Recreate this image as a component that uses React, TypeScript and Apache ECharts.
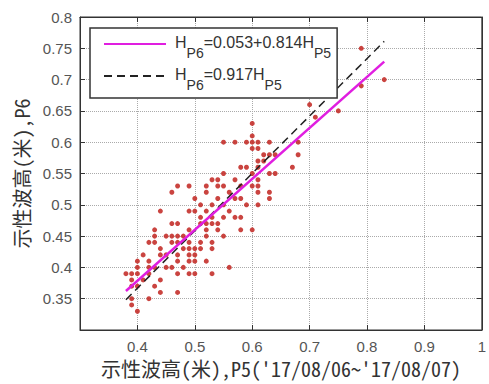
import React, { useEffect, useRef } from "react";
import * as echarts from "echarts";

// Significant wave height levels at P6 (m), and the P5 readings observed at each level
const p6Levels = [
  0.75, 0.7, 0.69, 0.66, 0.65, 0.64, 0.63, 0.61, 0.6, 0.59, 0.58, 0.57, 0.56, 0.55, 0.54,
  0.53, 0.52, 0.51, 0.5, 0.49, 0.48, 0.47, 0.46, 0.45, 0.44, 0.43, 0.42, 0.41, 0.4, 0.39,
  0.38, 0.37, 0.36, 0.35, 0.34, 0.33,
];
const p5AtLevel = [
  [0.79],
  [0.83],
  [0.79],
  [0.7],
  [0.75],
  [0.71],
  [0.6],
  [0.6],
  [0.55, 0.57, 0.59, 0.6, 0.61, 0.63, 0.68],
  [0.6, 0.61],
  [0.62, 0.63, 0.64, 0.68],
  [0.61, 0.62],
  [0.58, 0.59, 0.61, 0.67],
  [0.55, 0.6, 0.63, 0.64],
  [0.53, 0.54, 0.57, 0.61],
  [0.47, 0.49, 0.52, 0.54, 0.55, 0.58, 0.6, 0.61],
  [0.46, 0.52, 0.56, 0.61, 0.63],
  [0.5, 0.54, 0.57, 0.58, 0.63],
  [0.51, 0.53, 0.55, 0.59, 0.61],
  [0.44, 0.49, 0.5, 0.52, 0.56],
  [0.51, 0.53, 0.55, 0.57, 0.58],
  [0.46, 0.47, 0.51, 0.52, 0.53, 0.54],
  [0.43, 0.49, 0.52, 0.54, 0.58, 0.6],
  [0.43, 0.45, 0.46, 0.47, 0.48, 0.52, 0.55],
  [0.42, 0.43, 0.46, 0.47, 0.49, 0.51, 0.53],
  [0.44, 0.48, 0.49, 0.5, 0.51, 0.53],
  [0.41, 0.44, 0.45, 0.47, 0.49, 0.5],
  [0.4, 0.42, 0.47, 0.49, 0.5, 0.52],
  [0.4, 0.42, 0.43, 0.45, 0.46, 0.48, 0.56],
  [0.38, 0.39, 0.4, 0.42, 0.47, 0.49, 0.5, 0.53],
  [0.39, 0.41, 0.44],
  [0.39, 0.4, 0.43],
  [0.44, 0.47],
  [0.39, 0.42],
  [0.39],
  [0.4],
];

// Regression coefficients and the P5 span the fitted lines cover
const fitIntercept = 0.053;
const fitSlope = 0.814;
const ratioSlope = 0.917;
const lineSpan = [0.38, 0.83];

const xTicks = { min: 0.3, max: 1.0, step: 0.1 };
const yTicks = { min: 0.3, max: 0.8, step: 0.05 };

const xTitle = "示性波高(米),P5('17/08/06~'17/08/07)";
const yTitle = "示性波高(米),P6";
const fitName = "HP6=0.053+0.814HP5";
const ratioName = "HP6=0.917HP5";

const cjkFont = "'Noto Sans Mono CJK SC', 'Noto Sans CJK SC', sans-serif";
const latinFont = "'Liberation Sans', Arial, sans-serif";
const frame = "#333";
const fitColor = "#e01ee0";
const ratioColor = "#222";

const points: number[][] = [];
p6Levels.forEach((y, i) => p5AtLevel[i].forEach((x) => points.push([x, y])));

const fitLine = lineSpan.map((x) => [x, fitIntercept + fitSlope * x]);
const ratioLine = lineSpan.map((x) => [x, ratioSlope * x]);

const tickText = (min: number) => (v: number) =>
  Math.abs(v - min) < 1e-9 ? "" : String(Number(v.toFixed(2)));

export default function App() {
  const ref = useRef<HTMLDivElement>(null);

  useEffect(() => {
    if (!ref.current) return;
    const chart = echarts.init(ref.current, undefined, { renderer: "svg" });

    const baseX = {
      type: "value" as const,
      min: xTicks.min,
      max: xTicks.max,
      interval: xTicks.step,
      axisLine: { show: true, onZero: false, lineStyle: { color: frame, width: 1 } },
      axisTick: { show: true, inside: true, length: 5, lineStyle: { color: frame } },
    };
    const baseY = {
      type: "value" as const,
      min: yTicks.min,
      max: yTicks.max,
      interval: yTicks.step,
      axisLine: { show: true, onZero: false, lineStyle: { color: frame, width: 1 } },
      axisTick: { show: true, inside: true, length: 5, lineStyle: { color: frame } },
    };

    chart.setOption({
      animation: false,
      grid: {
        left: 80,
        right: 1,
        top: 17,
        bottom: 54,
        show: true,
        borderColor: frame,
        borderWidth: 1,
        backgroundColor: "#fff",
      },
      xAxis: [
        {
          ...baseX,
          position: "bottom",
          name: xTitle,
          nameLocation: "middle",
          nameGap: 23,
          nameTextStyle: { fontFamily: cjkFont, fontSize: 20, color: "#333" },
          axisLabel: {
            formatter: tickText(xTicks.min),
            color: "#555",
            fontSize: 15,
            fontFamily: latinFont,
            margin: 9,
          },
          splitLine: { show: true, lineStyle: { type: "dotted", color: "#aaa", width: 1 } },
        },
        {
          ...baseX,
          position: "top",
          axisLabel: { show: false },
          splitLine: { show: false },
        },
      ],
      yAxis: [
        {
          ...baseY,
          position: "left",
          name: yTitle,
          nameLocation: "middle",
          nameGap: 44,
          nameTextStyle: { fontFamily: cjkFont, fontSize: 20, color: "#333" },
          axisLabel: {
            formatter: tickText(yTicks.min),
            color: "#555",
            fontSize: 15,
            fontFamily: latinFont,
            margin: 8,
          },
          splitLine: { show: true, lineStyle: { type: "dotted", color: "#aaa", width: 1 } },
        },
        {
          ...baseY,
          position: "right",
          axisLabel: { show: false },
          splitLine: { show: false },
        },
      ],
      legend: {
        orient: "vertical",
        left: 90,
        top: 28,
        padding: [6, 6, 6, 13],
        itemWidth: 62,
        itemHeight: 14,
        itemGap: 6,
        backgroundColor: "#fff",
        borderColor: frame,
        borderWidth: 1.5,
        itemStyle: { opacity: 0 },
        data: [fitName, ratioName],
        formatter: (name: string) =>
          name === fitName
            ? "{g|}{m|H}{s|P6}{m|=0.053+0.814H}{s|P5}"
            : "{g|}{m|H}{s|P6}{m|=0.917H}{s|P5}",
        textStyle: {
          rich: {
            g: { width: 4 },
            m: { fontSize: 16, fontFamily: latinFont, color: "#333", lineHeight: 20, verticalAlign: "top" },
            s: {
              fontSize: 14,
              fontFamily: latinFont,
              color: "#333",
              lineHeight: 14,
              padding: [12, 0, 0, 0],
              verticalAlign: "top",
            },
          },
        },
      },
      series: [
        {
          type: "scatter",
          name: "P5/P6",
          data: points,
          symbol: "circle",
          symbolSize: 5,
          itemStyle: { color: "#c4302b", opacity: 0.9 },
          z: 2,
        },
        {
          type: "line",
          name: fitName,
          data: fitLine,
          symbol: "none",
          color: fitColor,
          itemStyle: { color: fitColor },
          lineStyle: { color: fitColor, width: 2.5 },
          z: 4,
        },
        {
          type: "line",
          name: ratioName,
          data: ratioLine,
          symbol: "none",
          color: ratioColor,
          itemStyle: { color: ratioColor },
          lineStyle: { color: ratioColor, width: 1.5, type: [8, 5] },
          z: 3,
        },
      ],
    });

    return () => chart.dispose();
  }, []);

  return (
    <div
      ref={ref}
      style={{ position: "fixed", left: 0, top: 0, width: 489, height: 384, background: "#fff" }}
    />
  );
}
